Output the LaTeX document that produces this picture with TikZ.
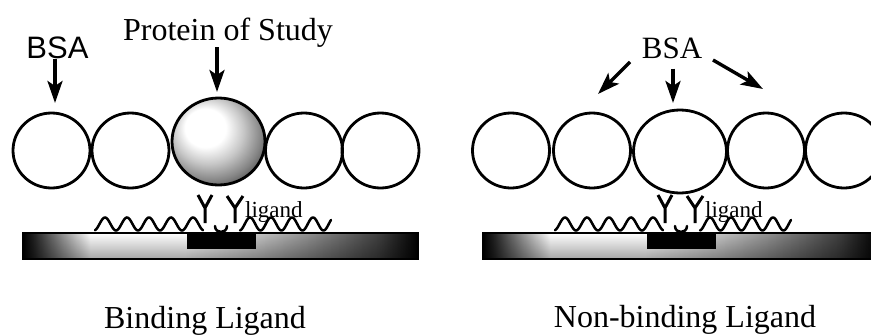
\documentclass[tikz,border=0pt]{standalone}
\usepackage{fontspec}
\setmainfont{Liberation Serif}
\newfontfamily\labelsans{Liberation Sans}
\usetikzlibrary{arrows.meta,shapes.geometric,fadings}

% Substrate: dark ends, bright left part, grey towards the right
\pgfdeclarehorizontalshading{slab}{100bp}{color(0bp)=(black); color(25bp)=(black);
  color(26.5bp)=(black!85); color(33.5bp)=(white); color(45.5bp)=(white);
  color(54.5bp)=(black!22); color(60bp)=(black!40); color(70bp)=(black!75);
  color(75bp)=(black); color(100bp)=(black)}
\tikzfading[name=slabshade, top color=transparent!100, bottom color=transparent!65]
% Glossy protein sphere, highlight up and to the left
\pgfdeclareradialshading{pearl}{\pgfpoint{-9bp}{10bp}}{color(0bp)=(white); color(11bp)=(white);
  color(19bp)=(black!22); color(27bp)=(black!48); color(35bp)=(black!80); color(42bp)=(black); color(50bp)=(black)}

\begin{document}
\begin{tikzpicture}[x=1pt, y=-1pt,
  bead/.style={ellipse, draw, line width=2.8pt, minimum width=77pt, minimum height=75pt, inner sep=0pt},
  bigbead/.style={bead, minimum width=93pt, minimum height=85pt},
  arr/.style={line width=3.4pt, -{Stealth[length=22pt, width=15pt, inset=5pt]}},
  wave/.style={line width=2.5pt, line cap=round},
  ystem/.style={line width=3pt, line join=miter},
  serif/.style={inner sep=0pt, font=\fontsize{32}{32}\selectfont},
  pics/surface/.style={code={
    % glass slide with the immobilised patch
    \shade[shading=slab] (23,233) rectangle (418,259);
    \fill[black, path fading=slabshade] (23,233) rectangle (418,259);
    \draw[line width=2.4pt] (23,233) rectangle (418,259);
    \fill (187,233) rectangle (256,249);
    % blocking chains
    \draw[wave] plot[domain=95:203, samples=140, smooth] (\x, {224-6.5*sin(((\x-99.5)/22)*360)});
    \draw[wave] plot[domain=240:331, samples=140, smooth] (\x, {224-6.5*sin(((\x-244.75)/21)*360)});
    \draw[wave] (215,226) .. controls (215,234) and (227,234) .. (227,226);
    % ligands
    \draw[ystem] (198,195) -- (205,208) -- (212,195) (205,208) -- (205,223);
    \draw[ystem] (227,196) -- (235,208) -- (243,196) (235,208) -- (235,223);
    \node[anchor=base west, inner sep=0pt, font=\fontsize{23}{23}\selectfont] (-lig) at (245,217) {ligand};
  }}
]
\useasboundingbox (0,0) rectangle (871,335);
\clip (0,0) rectangle (871,335);

% ---- binding ligand ----
\pic (L) at (0,0) {surface};
\node[bead] (L1) at (51.5,150.5) {};
\node[bead] (L2) at (130.5,150.5) {};
\node[bead] (L4) at (304,150.5) {};
\node[bead] (L5) at (380.5,150.5) {};
\node[ellipse, draw, line width=2.8pt, minimum width=93pt, minimum height=87pt, inner sep=0pt,
      shading=pearl] (P) at (218.5,141.5) {};

\node[anchor=base, inner sep=0pt, font=\labelsans\fontsize{31}{31}\selectfont] (bsaL) at (57.5,58) {BSA};
\node[anchor=base, serif] (prot) at (228,40) {Protein of Study};
\coordinate (tipA) at (55,103);
\coordinate (tipB) at (217,92);
\draw[arr] (bsaL.south -| tipA) -- (tipA);
\draw[arr] (prot.south -| tipB) -- (tipB);

\node[anchor=base, serif] (capL) at (205,328) {Binding Ligand};

% ---- non-binding ligand ----
\pic (R) at (460,0) {surface};
\node[bead] (R1) at (511,150.5) {};
\node[bead] (R2) at (592,150.5) {};
\node[bigbead, minimum height=83pt] (R3) at (680,151.5) {};
\node[bead] (R4) at (766,150.5) {};
\node[bead] (R5) at (844,150.5) {};

\node[anchor=base, serif, font=\fontsize{31}{31}\selectfont] (bsaR) at (672,58) {BSA};
\coordinate (s1) at (630,62);  \coordinate (t1) at (598,94);
\coordinate (t2) at (673,103);
\coordinate (s3) at (713,60);  \coordinate (t3) at (763,89);
\draw[arr] (s1) -- (t1);
\draw[arr] ([yshift=-10pt]bsaR.south -| t2) -- (t2);
\draw[arr] (s3) -- (t3);

\node[anchor=base, serif] (capR) at (685,327) {Non-binding Ligand};
\end{tikzpicture}
\end{document}
